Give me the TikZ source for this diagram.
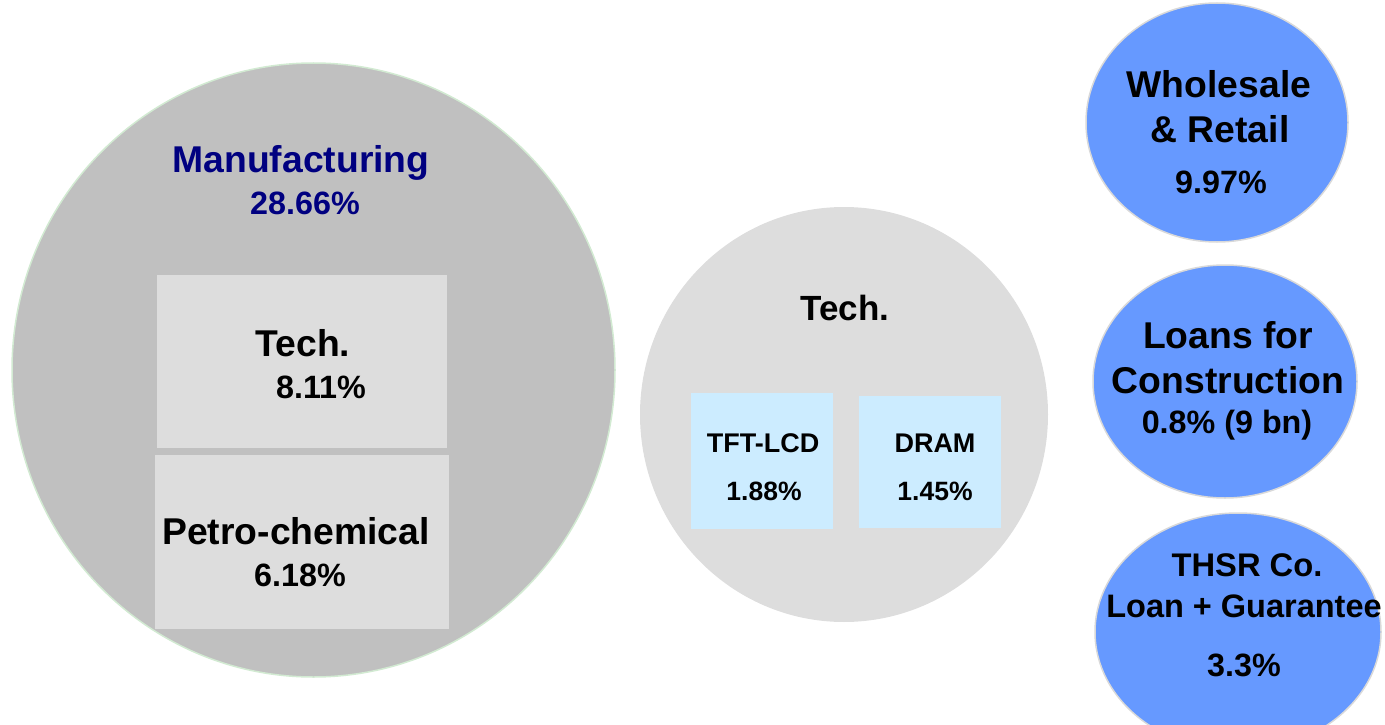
\documentclass[tikz,border=0pt]{standalone}
\usepackage{fontspec}
\setmainfont{Liberation Sans}
\usetikzlibrary{shapes.geometric}
\definecolor{mfggray}{HTML}{C0C0C0}
\definecolor{mfgedge}{HTML}{D2EAD2}
\definecolor{lightgray}{HTML}{DDDDDD}
\definecolor{paleblue}{HTML}{CCECFF}
\definecolor{midblue}{HTML}{6699FF}
\definecolor{blueedge}{HTML}{D9D9D9}
\definecolor{navytext}{HTML}{000080}
\tikzset{
  txt/.style={anchor=base, inner sep=0pt, font=\bfseries\fontsize{#1}{#1}\selectfont},
  box/.style={rectangle, fill=#1, draw=none, inner sep=0pt},
  bluecirc/.style={ellipse, fill=midblue, draw=blueedge, line width=1.5pt, inner sep=0pt},
}
\begin{document}
\begin{tikzpicture}[x=1pt,y=-1pt]
\useasboundingbox (0,0) rectangle (1385,725);
\clip (0,0) rectangle (1385,725);
% Manufacturing circle
\node[ellipse, fill=mfggray, draw=mfgedge, line width=1.5pt, inner sep=0pt,
      minimum width=603pt, minimum height=614pt] (mfg) at (313.5,370) {};
\node[box=lightgray, minimum width=290pt, minimum height=173pt] (techbox) at (302,361.5) {};
\node[box=lightgray, minimum width=294pt, minimum height=174pt] (petrobox) at (302,542) {};
\node[txt=37.3, text=navytext] (mfgname) at (301,172) {Manufacturing};
\node[txt=32.3, text=navytext] (mfgpct) at (305,214) {28.66\%};
\node[txt=37.3] (techname) at (303,356) {Tech.};
\node[txt=32.3] (techpct) at (321,398) {8.11\%};
\node[txt=37.3] (petroname) at (296,544) {Petro-chemical};
\node[txt=32.3] (petropct) at (300,586) {6.18\%};
% Tech circle
\node[ellipse, fill=lightgray, draw=none, inner sep=0pt,
      minimum width=408pt, minimum height=415pt] (tech) at (844,414.5) {};
\node[txt=35] (techtitle) at (845,320) {Tech.};
\node[box=paleblue, minimum width=142pt, minimum height=136pt] (tftbox) at (762,461) {};
\node[box=paleblue, minimum width=142pt, minimum height=132pt] (drambox) at (930,462) {};
\node[txt=27] (tftname) at (763,452) {TFT-LCD};
\node[txt=26.5] (tftpct) at (764,500) {1.88\%};
\node[txt=27] (dramname) at (935,452) {DRAM};
\node[txt=26.5] (drampct) at (935,500) {1.45\%};
% Blue circles
\node[bluecirc, minimum width=262pt, minimum height=239pt] (whole) at (1217,122.5) {};
\node[txt=37.3] (wholea) at (1219,97) {Wholesale};
\node[txt=37.3] (wholeb) at (1220,142) {\& Retail};
\node[txt=32.3] (wholepct) at (1221,193) {9.97\%};
\node[bluecirc, minimum width=264pt, minimum height=233pt] (constr) at (1225,381.5) {};
\node[txt=37.3] (constra) at (1228,348) {Loans for};
\node[txt=37.3] (constrb) at (1228,393) {Construction};
\node[txt=32.3] (constrpct) at (1227,433) {0.8\% (9 bn)};
\node[bluecirc, minimum width=286pt, minimum height=238pt] (thsr) at (1238,632) {};
\node[txt=32.7] (thsra) at (1247,576) {THSR Co.};
\node[txt=32.5] (thsrb) at (1244,617) {Loan + Guarantee};
\node[txt=32.3] (thsrpct) at (1244,676) {3.3\%};
\end{tikzpicture}
\end{document}
